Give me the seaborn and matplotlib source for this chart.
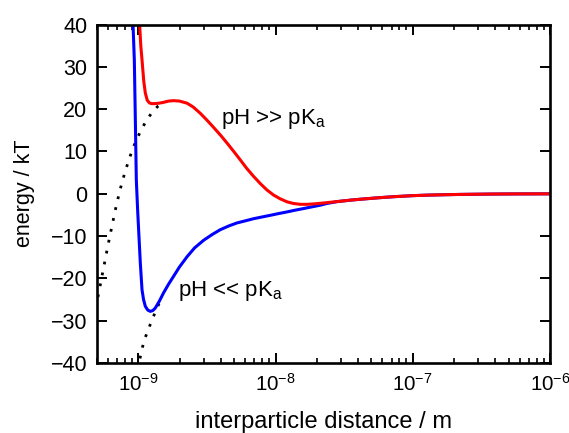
import numpy as np
import pandas as pd
import matplotlib
matplotlib.use("Agg")
import matplotlib.pyplot as plt
import seaborn as sns

# Interaction energy curves (log10 of separation in m, energy in kT)
high_ph_log_d = [-8.996, -8.9905, -8.982, -8.973, -8.960, -8.949, -8.935, -8.920, -8.905,
                 -8.88, -8.85, -8.816, -8.78, -8.743, -8.70, -8.645, -8.60, -8.548, -8.50,
                 -8.452, -8.40, -8.354, -8.30, -8.257, -8.21, -8.160, -8.111, -8.063, -8.015,
                 -7.966, -7.917, -7.87, -7.82, -7.77, -7.72, -7.67, -7.626, -7.55, -7.45,
                 -7.383, -7.25, -7.14, -7.0, -6.897, -6.75, -6.655, -6.5, -6.412, -6.25, -6.0]
high_ph_energy = [48, 40, 35.0, 31.6, 26.5, 23.8, 22.1, 21.5, 21.3,
                  21.3, 21.4, 21.6, 21.9, 22.0, 21.9, 21.4, 20.5, 19.0, 17.4,
                  15.7, 13.8, 12.0, 9.8, 8.0, 6.0, 4.1, 2.4, 0.9, -0.3,
                  -1.2, -1.9, -2.3, -2.5, -2.5, -2.4, -2.25, -2.1, -1.85, -1.5,
                  -1.3, -0.95, -0.7, -0.45, -0.33, -0.22, -0.16, -0.1, -0.07, -0.04, -0.02]

low_ph_log_d = [-9.042, -9.0386, -9.034, -9.0291, -9.022, -9.0146, -9.0051, -8.9978, -8.9854,
                -8.9731, -8.962, -8.949, -8.931, -8.9126, -8.894, -8.8762, -8.847, -8.8157,
                -8.78, -8.7429, -8.70, -8.6453, -8.59, -8.5244, -8.46, -8.4028, -8.34, -8.2811,
                -8.22, -8.1602, -8.10, -8.0386, -7.98, -7.917, -7.86, -7.796, -7.735, -7.674,
                -7.626, -7.55, -7.45, -7.383, -7.25, -7.14, -7.0, -6.897, -6.75, -6.655, -6.5,
                -6.412, -6.25, -6.0]
low_ph_energy = [46, 40, 36, 31.6, 18, 3.3, -3.8, -8.5, -16.4,
                 -22.7, -25.0, -26.6, -27.5, -27.8, -27.6, -27.0, -25.4, -23.4,
                 -21.4, -19.5, -17.3, -14.9, -12.8, -11.0, -9.6, -8.5, -7.6, -6.9,
                 -6.4, -5.9, -5.5, -5.1, -4.7, -4.3, -3.9, -3.5, -3.1, -2.7,
                 -2.3, -1.85, -1.5, -1.3, -0.95, -0.7, -0.45, -0.33, -0.22, -0.16, -0.1,
                 -0.07, -0.04, -0.02]

# Contributions without the short-range repulsion
high_ph_attr_log_d = [-9.31, -9.28, -9.25, -9.22, -9.19, -9.16, -9.13, -9.10, -9.07, -9.04,
                      -9.01, -8.98, -8.95, -8.92, -8.89, -8.86, -8.83, -8.80]
high_ph_attr_energy = [-27.0, -22.0, -17.0, -12.0, -7.3, -2.7, 1.3, 4.8, 7.9, 10.7,
                       13.0, 15.0, 16.8, 18.3, 19.6, 20.6, 21.3, 21.8]

low_ph_attr_log_d = [-9.005, -8.99, -8.97, -8.95, -8.93, -8.91, -8.89, -8.87, -8.85, -8.83]
low_ph_attr_energy = [-41.5, -39.2, -36.3, -34.0, -32.4, -30.6, -29.0, -27.6, -26.0, -24.4]

x_ticks = [1e-9, 1e-8, 1e-7, 1e-6]
y_ticks = [-40, -30, -20, -10, 0, 10, 20, 30, 40]

sns.set_style("ticks")
plt.rcParams.update({
    "font.family": ["Liberation Sans", "DejaVu Sans"],
    "mathtext.fontset": "custom",
    "mathtext.rm": "Liberation Sans",
    "mathtext.it": "Liberation Sans:italic",
    "mathtext.bf": "Liberation Sans:bold",
    "text.color": "black",
    "axes.labelcolor": "black",
    "axes.linewidth": 1.9,
    "axes.edgecolor": "black",
    "xtick.direction": "in",
    "ytick.direction": "in",
    "xtick.top": True,
    "ytick.right": True,
    "xtick.major.size": 7,
    "ytick.major.size": 7,
    "xtick.minor.size": 3.5,
    "ytick.minor.size": 3.5,
    "xtick.major.width": 1.4,
    "ytick.major.width": 1.4,
    "xtick.minor.width": 1.2,
    "xtick.major.pad": 7,
    "ytick.major.pad": 7,
    "xtick.color": "black",
    "ytick.color": "black",
    "xtick.labelcolor": "black",
    "ytick.labelcolor": "black",
})

def frame(log_d, energy):
    return pd.DataFrame({"d": np.power(10.0, log_d), "E": energy})

fig = plt.figure(figsize=(5.69, 4.33), dpi=100)
ax = fig.add_axes([0.1705, 0.1617, 0.7961, 0.7817])

dot_style = dict(color="black", lw=2.0, linestyle=(0, (1, 3.0)))
sns.lineplot(data=frame(high_ph_attr_log_d, high_ph_attr_energy), x="d", y="E",
             sort=False, estimator=None, ax=ax, **dot_style)
sns.lineplot(data=frame(low_ph_attr_log_d, low_ph_attr_energy), x="d", y="E",
             sort=False, estimator=None, ax=ax, **dot_style)
sns.lineplot(data=frame(low_ph_log_d, low_ph_energy), x="d", y="E",
             sort=False, estimator=None, ax=ax, color="#0000ff", lw=2.2)
sns.lineplot(data=frame(high_ph_log_d, high_ph_energy), x="d", y="E",
             sort=False, estimator=None, ax=ax, color="#ff0000", lw=2.2)

ax.set_xscale("log")
ax.set_xlim(5e-10, 1e-6)
ax.set_ylim(-40, 40)
ax.set_xticks(x_ticks)
ax.set_yticks(y_ticks)
ax.tick_params(axis="y", labelsize=15.5)
ax.tick_params(axis="x", labelsize=14.8)

ax.text(4.0e-9, 16.4, "pH >> pK$_\\mathregular{a}$", fontsize=16, va="baseline")
ax.text(1.93e-9, -24.1, "pH << pK$_\\mathregular{a}$", fontsize=16, va="baseline")

ax.set_xlabel("interparticle distance / m", fontsize=17)
ax.set_ylabel("energy / kT", fontsize=15.5)
ax.xaxis.set_label_coords(0.5, -0.142)
ax.yaxis.set_label_coords(-0.137, 0.5)

fig.savefig("out.png", dpi=100)
